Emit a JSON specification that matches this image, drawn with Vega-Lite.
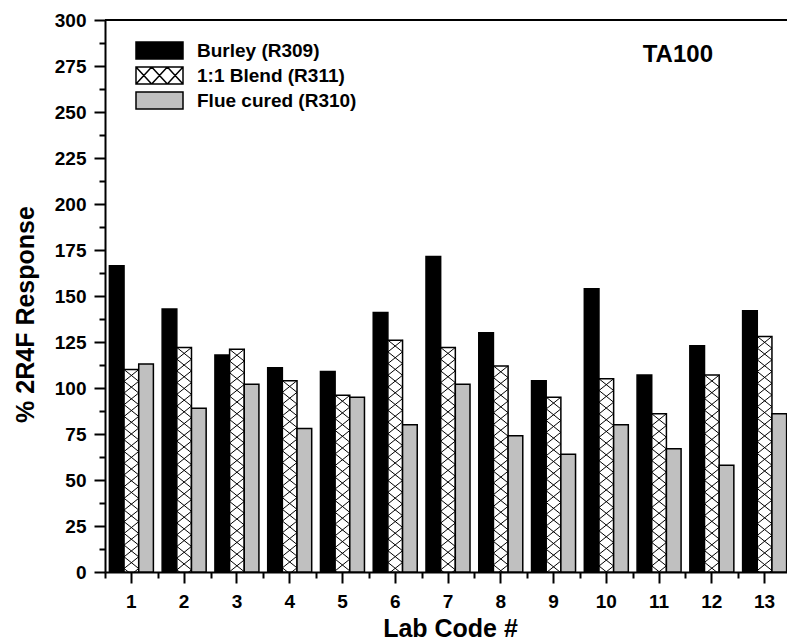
{
  "$schema": "https://vega.github.io/schema/vega-lite/v6.json",
  "autosize": {"type": "none"},
  "padding": {"left": 105, "top": 20, "right": 0, "bottom": 70},
  "width": 682,
  "height": 552,
  "title": {"text": "TA100", "anchor": "end", "frame": "group", "orient": "top", "fontSize": 24, "font": "Liberation Sans", "fontWeight": "bold", "color": "black", "dx": -74, "dy": 41.7, "offset": -33.7, "baseline": "alphabetic"},
  "config": {
    "font": "Liberation Sans",
    "view": {"stroke": null},
    "axis": {"domainColor": "black", "tickColor": "black", "labelColor": "black", "titleColor": "black", "labelFontWeight": "bold", "titleFontWeight": "bold", "grid": false, "domainWidth": 2, "tickWidth": 2}
  },
  "data": {"values": [
    {"lab": 1, "series": "Burley (R309)", "value": 166.5},
    {"lab": 1, "series": "1:1 Blend (R311)", "value": 110},
    {"lab": 1, "series": "Flue cured (R310)", "value": 113},
    {"lab": 2, "series": "Burley (R309)", "value": 143},
    {"lab": 2, "series": "1:1 Blend (R311)", "value": 122},
    {"lab": 2, "series": "Flue cured (R310)", "value": 89},
    {"lab": 3, "series": "Burley (R309)", "value": 118},
    {"lab": 3, "series": "1:1 Blend (R311)", "value": 121},
    {"lab": 3, "series": "Flue cured (R310)", "value": 102},
    {"lab": 4, "series": "Burley (R309)", "value": 111},
    {"lab": 4, "series": "1:1 Blend (R311)", "value": 104},
    {"lab": 4, "series": "Flue cured (R310)", "value": 78},
    {"lab": 5, "series": "Burley (R309)", "value": 109},
    {"lab": 5, "series": "1:1 Blend (R311)", "value": 96},
    {"lab": 5, "series": "Flue cured (R310)", "value": 95},
    {"lab": 6, "series": "Burley (R309)", "value": 141},
    {"lab": 6, "series": "1:1 Blend (R311)", "value": 126},
    {"lab": 6, "series": "Flue cured (R310)", "value": 80},
    {"lab": 7, "series": "Burley (R309)", "value": 171.5},
    {"lab": 7, "series": "1:1 Blend (R311)", "value": 122},
    {"lab": 7, "series": "Flue cured (R310)", "value": 102},
    {"lab": 8, "series": "Burley (R309)", "value": 130},
    {"lab": 8, "series": "1:1 Blend (R311)", "value": 112},
    {"lab": 8, "series": "Flue cured (R310)", "value": 74},
    {"lab": 9, "series": "Burley (R309)", "value": 104},
    {"lab": 9, "series": "1:1 Blend (R311)", "value": 95},
    {"lab": 9, "series": "Flue cured (R310)", "value": 64},
    {"lab": 10, "series": "Burley (R309)", "value": 154},
    {"lab": 10, "series": "1:1 Blend (R311)", "value": 105},
    {"lab": 10, "series": "Flue cured (R310)", "value": 80},
    {"lab": 11, "series": "Burley (R309)", "value": 107},
    {"lab": 11, "series": "1:1 Blend (R311)", "value": 86},
    {"lab": 11, "series": "Flue cured (R310)", "value": 67},
    {"lab": 12, "series": "Burley (R309)", "value": 123},
    {"lab": 12, "series": "1:1 Blend (R311)", "value": 107},
    {"lab": 12, "series": "Flue cured (R310)", "value": 58},
    {"lab": 13, "series": "Burley (R309)", "value": 142},
    {"lab": 13, "series": "1:1 Blend (R311)", "value": 128},
    {"lab": 13, "series": "Flue cured (R310)", "value": 86}
  ]},
  "layer": [
    {
      "layer": [
        {
          "mark": {"type": "bar", "stroke": "black", "strokeWidth": 1.5},
          "encoding": {
            "x": {"field": "lab", "type": "ordinal",
              "scale": {"range": [0, 686], "paddingInner": 0.166, "paddingOuter": 0.083},
              "axis": {"title": "Lab Code #", "labelAngle": 0, "labelFontSize": 19, "labelPadding": 9, "tickSize": 11, "titleFontSize": 25, "titleX": 345, "titleY": 64.5, "titleBaseline": "alphabetic", "titleAlign": "center"}},
            "xOffset": {"field": "series", "type": "nominal", "sort": ["Burley (R309)", "1:1 Blend (R311)", "Flue cured (R310)"]},
            "y": {"field": "value", "type": "quantitative",
              "scale": {"domain": [0, 300], "nice": false},
              "axis": {"title": "% 2R4F Response", "values": [0, 25, 50, 75, 100, 125, 150, 175, 200, 225, 250, 275, 300], "labelFontSize": 19, "labelPadding": 8, "tickSize": 11, "titleFontSize": 25, "titleAngle": -90, "titleX": -72, "titleY": 294, "titleBaseline": "alphabetic", "titleAlign": "center"}},
            "fill": {"field": "series", "type": "nominal",
              "scale": {"domain": ["Burley (R309)", "1:1 Blend (R311)", "Flue cured (R310)"], "range": ["black", "white", "#c0c0c0"]},
              "legend": {
                "orient": "none", "legendX": 45, "legendY": 21, "title": null, "padding": 0,
                "symbolType": "M-2.765,-1L2.765,-1L2.765,1L-2.765,1Z",
                "symbolSize": 289, "symbolStrokeColor": "black", "symbolStrokeWidth": 1.5,
                "labelFontSize": 19, "labelFontWeight": "bold", "labelColor": "black", "labelOffset": 28, "rowPadding": 2,
                "encode": {"symbols": {"update": {"shape": {"signal": "datum.value === '1:1 Blend (R311)' ? 'M-2.765,-1L2.765,-1L2.765,1L-2.765,1ZM-2.765,-1L-0.922,1M-0.922,-1L-2.765,1M-0.922,-1L0.922,1M0.922,-1L-0.922,1M0.922,-1L2.765,1M2.765,-1L0.922,1' : 'M-2.765,-1L2.765,-1L2.765,1L-2.765,1Z'"}}}}
              }}
          }
        },
        {
          "transform": [{"filter": "datum.series === '1:1 Blend (R311)'"}],
          "mark": {"type": "point", "filled": false, "opacity": 1, "stroke": "black", "strokeWidth": 1, "size": 4, "clip": true,
            "shape": "M-7.3,0L7.3,11.7L-7.3,23.4L7.3,35.1L-7.3,46.8L7.3,58.5L-7.3,70.2L7.3,81.9L-7.3,93.6L7.3,105.3L-7.3,117L7.3,128.7L-7.3,140.4L7.3,152.1L-7.3,163.8L7.3,175.5L-7.3,187.2L7.3,198.9L-7.3,210.6L7.3,222.3L-7.3,234L7.3,245.7M7.3,0L-7.3,11.7L7.3,23.4L-7.3,35.1L7.3,46.8L-7.3,58.5L7.3,70.2L-7.3,81.9L7.3,93.6L-7.3,105.3L7.3,117L-7.3,128.7L7.3,140.4L-7.3,152.1L7.3,163.8L-7.3,175.5L7.3,187.2L-7.3,198.9L7.3,210.6L-7.3,222.3L7.3,234L-7.3,245.7"},
          "encoding": {
            "x": {"field": "lab", "type": "ordinal"},
            "xOffset": {"field": "series", "type": "nominal", "sort": ["Burley (R309)", "1:1 Blend (R311)", "Flue cured (R310)"]},
            "y": {"field": "value", "type": "quantitative"}
          }
        }
      ]
    },
    {
      "mark": {"type": "rule", "strokeWidth": 2, "color": "black"},
      "encoding": {
        "x": {"datum": 0.5, "type": "quantitative",
          "scale": {"domain": [0.5, 13.5], "range": [0, 686], "nice": false, "zero": false},
          "axis": {"orient": "bottom", "values": [0.5, 1.5, 2.5, 3.5, 4.5, 5.5, 6.5, 7.5, 8.5, 9.5, 10.5, 11.5, 12.5, 13.5], "labels": false, "domain": false, "tickSize": 6, "title": null}},
        "x2": {"datum": 13.5},
        "y": {"datum": 300, "type": "quantitative",
          "scale": {"domain": [0, 300], "nice": false},
          "axis": {"orient": "left", "values": [12.5, 37.5, 62.5, 87.5, 112.5, 137.5, 162.5, 187.5, 212.5, 237.5, 262.5, 287.5], "labels": false, "domain": false, "tickSize": 6, "title": null}}
      }
    }
  ],
  "resolve": {"scale": {"x": "independent", "y": "independent"}}
}
